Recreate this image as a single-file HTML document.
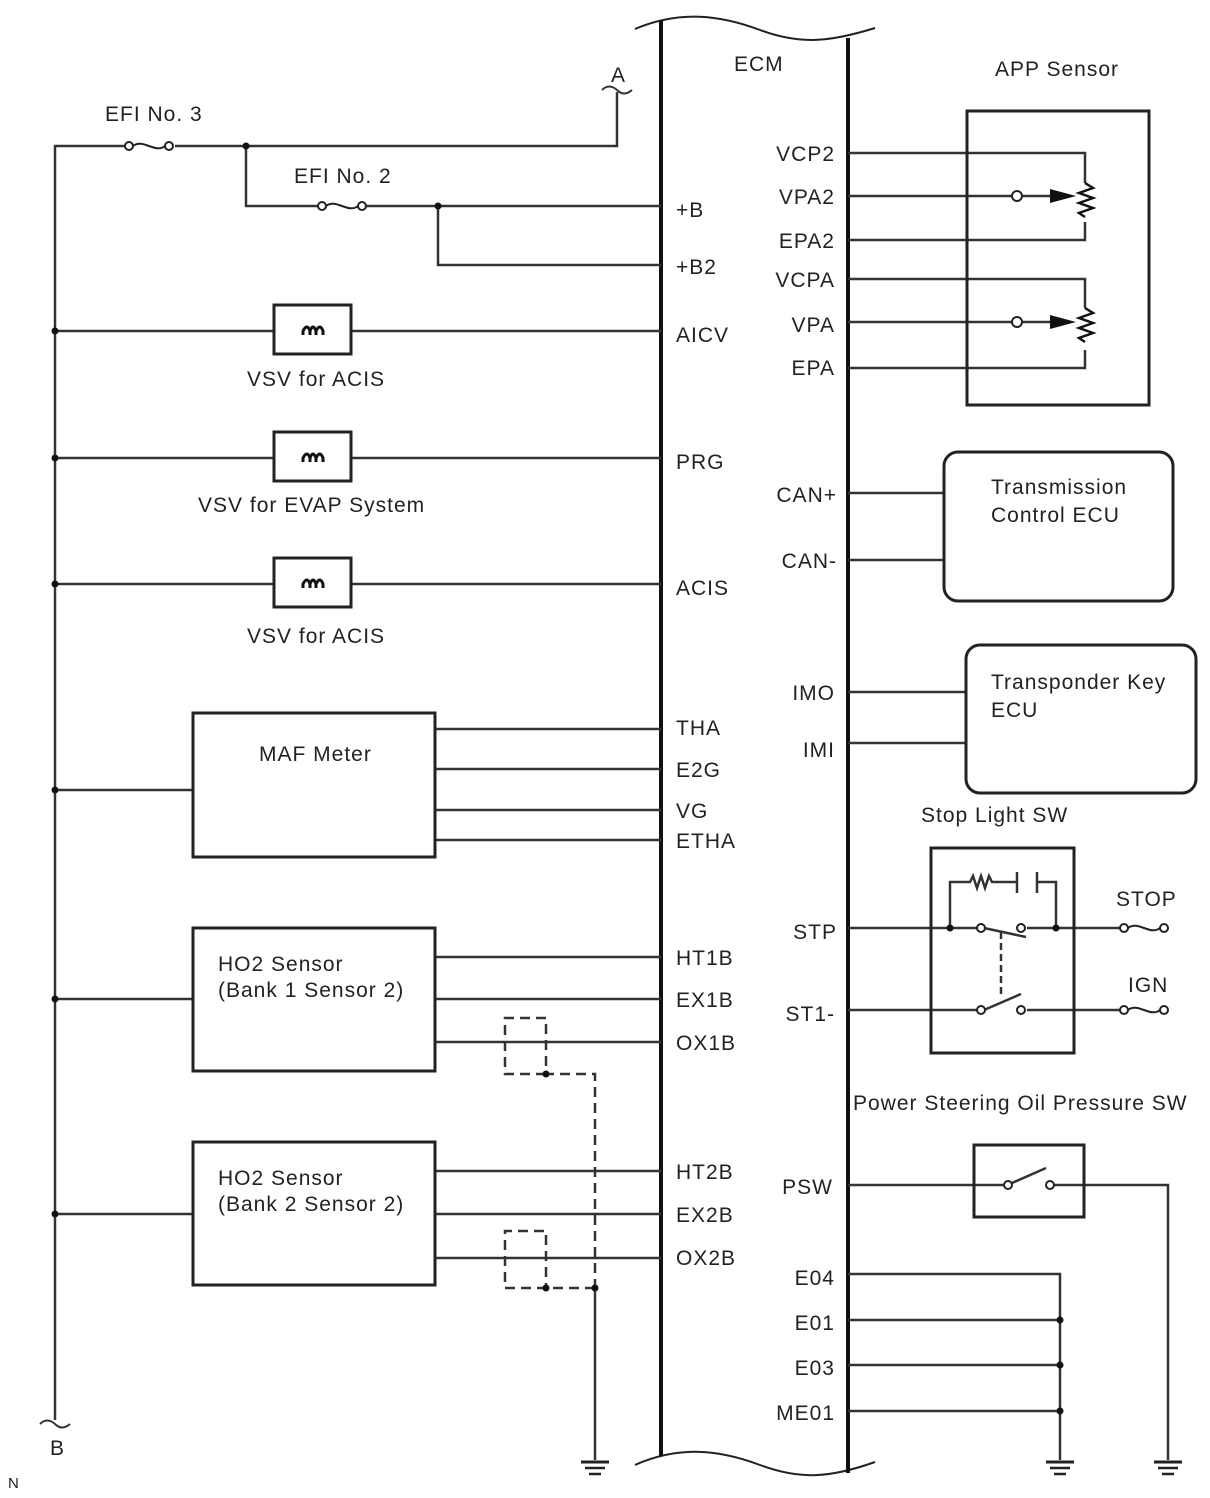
<!DOCTYPE html>
<html><head><style>body{margin:0;background:#fff}svg{display:block}text{font-family:"Liberation Sans",sans-serif;font-size:21px;letter-spacing:1px;fill:#222}</style></head><body>
<svg width="1210" height="1498" viewBox="0 0 1210 1498">
<defs>
<g id="fuse"><circle cx="0" cy="0" r="4" fill="#fff" stroke="#222" stroke-width="2"/><circle cx="40" cy="0" r="4" fill="#fff" stroke="#222" stroke-width="2"/><path d="M4,0 C14,-8 26,8 36,0" fill="none" stroke="#222" stroke-width="2"/></g>
<g id="gnd" stroke="#222"><line x1="-14" y1="0" x2="14" y2="0" stroke-width="3"/><line x1="-10" y1="6" x2="10" y2="6" stroke-width="2.5"/><line x1="-6" y1="12" x2="6" y2="12" stroke-width="2.5"/></g>
<g id="vsv"><rect x="0" y="0" width="77" height="49" fill="#fff" stroke="#222" stroke-width="3"/><path d="M29,30 v-4 q4,-8 7,0 v4 M36,26 q3,-8 6,0 v4 M42,26 q4,-8 7,0 v4" fill="none" stroke="#111" stroke-width="3"/></g>
</defs>
<g fill="none" stroke="#333" stroke-width="2.5">
<path d="M635,29 C680,10 720,15 760,30 C800,45 830,42 875,28" stroke="#222" stroke-width="2"/>
<path d="M635,1465 C680,1445 720,1450 760,1465 C800,1480 830,1478 875,1462" stroke="#222" stroke-width="2"/>
<line x1="661" y1="20" x2="661" y2="1456" stroke="#111" stroke-width="4"/>
<line x1="848" y1="38" x2="848" y2="1473" stroke="#111" stroke-width="4"/>
<polyline points="55,1420 55,146 125,146"/><polyline points="175,146 617,146 617,92"/>
<path d="M602,90 q7,-7 15,0 q7,7 15,0" stroke-width="2"/>
<path d="M40,1424 q7,-7 15,0 q7,7 15,0" stroke-width="2"/>
<polyline points="246,146 246,206 318,206"/><polyline points="365,206 661,206"/>
<polyline points="438,206 438,265 661,265"/>
<line x1="55" y1="331" x2="661" y2="331"/><line x1="55" y1="458" x2="661" y2="458"/><line x1="55" y1="584" x2="661" y2="584"/>
<line x1="55" y1="790" x2="193" y2="790"/>
<line x1="435" y1="729" x2="661" y2="729"/><line x1="435" y1="769" x2="661" y2="769"/><line x1="435" y1="810" x2="661" y2="810"/><line x1="435" y1="840" x2="661" y2="840"/>
<line x1="55" y1="999" x2="193" y2="999"/>
<line x1="435" y1="957" x2="661" y2="957"/><line x1="435" y1="999" x2="661" y2="999"/><line x1="435" y1="1042" x2="661" y2="1042"/>
<line x1="55" y1="1214" x2="193" y2="1214"/>
<line x1="435" y1="1171" x2="661" y2="1171"/><line x1="435" y1="1214" x2="661" y2="1214"/><line x1="435" y1="1258" x2="661" y2="1258"/>
<g stroke-dasharray="10,6"><polyline points="546,1074 505,1074 505,1018 546,1018 546,1074 595,1074 595,1288"/><polyline points="595,1288 505,1288 505,1231 546,1231 546,1288"/></g>
<line x1="595" y1="1288" x2="595" y2="1460"/>
<polyline points="848,153 1085,153 1085,183"/><polyline points="1085,222 1085,240 848,240"/>
<line x1="848" y1="196" x2="1013" y2="196"/><line x1="1021" y1="196" x2="1060" y2="196"/>
<polyline points="848,279 1085,279 1085,308"/><polyline points="1085,350 1085,368 848,368"/>
<line x1="848" y1="322" x2="1013" y2="322"/><line x1="1021" y1="322" x2="1060" y2="322"/>
<path d="M1085,183 l8,5 l-14,5 l14,5 l-14,5 l14,5 l-14,5 l6,4" stroke="#111"/>
<path d="M1085,308 l8,5 l-14,5 l14,5 l-14,5 l14,5 l-14,5 l6,4" stroke="#111"/>
<line x1="848" y1="493" x2="944" y2="493"/><line x1="848" y1="560" x2="944" y2="560"/>
<line x1="848" y1="692" x2="966" y2="692"/><line x1="848" y1="743" x2="966" y2="743"/>
<line x1="848" y1="928" x2="977" y2="928"/><line x1="1027" y1="928" x2="1120" y2="928"/>
<path d="M984,928 L1026,937"/>
<polyline points="950,928 950,882 970,882 973,876 977,888 981,876 985,888 989,876 992,882 1017,882"/>
<line x1="1017" y1="872" x2="1017" y2="893"/><line x1="1037" y1="872" x2="1037" y2="893"/>
<polyline points="1037,882 1056,882 1056,928"/>
<line x1="1001" y1="932" x2="1001" y2="994" stroke-dasharray="7,4"/>
<line x1="848" y1="1010" x2="977" y2="1010"/><line x1="1027" y1="1010" x2="1120" y2="1010"/>
<path d="M984,1010 L1021,994"/>
<line x1="848" y1="1185" x2="1004" y2="1185"/><path d="M1012,1183 L1046,1168"/>
<polyline points="1054,1185 1168,1185 1168,1460"/>
<polyline points="848,1274 1060,1274 1060,1460"/>
<line x1="848" y1="1320" x2="1060" y2="1320"/><line x1="848" y1="1365" x2="1060" y2="1365"/><line x1="848" y1="1411" x2="1060" y2="1411"/>
</g>
<g fill="none" stroke="#222" stroke-width="3">
<rect x="193" y="713" width="242" height="144"/>
<rect x="193" y="928" width="242" height="143"/>
<rect x="193" y="1142" width="242" height="143"/>
<rect x="967" y="111" width="182" height="294"/>
<rect x="944" y="452" width="229" height="149" rx="14"/>
<rect x="966" y="645" width="230" height="148" rx="14"/>
<rect x="931" y="848" width="143" height="205"/>
<rect x="974" y="1145" width="110" height="72"/>
</g>
<use href="#vsv" x="274" y="305"/><use href="#vsv" x="274" y="432"/><use href="#vsv" x="274" y="558"/>
<use href="#fuse" x="129" y="146"/><use href="#fuse" x="322" y="206"/>
<use href="#fuse" x="1124" y="928"/><use href="#fuse" x="1124" y="1010"/>
<g fill="#fff" stroke="#222" stroke-width="2">
<circle cx="1017" cy="196" r="5"/><circle cx="1017" cy="322" r="5"/>
<circle cx="981" cy="928" r="4"/><circle cx="1021" cy="928" r="4"/>
<circle cx="981" cy="1010" r="4"/><circle cx="1021" cy="1010" r="4"/>
<circle cx="1008" cy="1185" r="4"/><circle cx="1050" cy="1185" r="4"/>
</g>
<g fill="#111">
<path d="M1050,189 L1076,196 L1050,203Z"/><path d="M1050,315 L1076,322 L1050,329Z"/>
<circle cx="246" cy="146" r="3.5"/><circle cx="438" cy="206" r="3.5"/>
<circle cx="55" cy="331" r="3.5"/><circle cx="55" cy="458" r="3.5"/><circle cx="55" cy="584" r="3.5"/><circle cx="55" cy="790" r="3.5"/><circle cx="55" cy="999" r="3.5"/><circle cx="55" cy="1214" r="3.5"/>
<circle cx="546" cy="1074" r="3.5"/><circle cx="546" cy="1288" r="3.5"/><circle cx="595" cy="1288" r="3.5"/>
<circle cx="950" cy="928" r="3.5"/><circle cx="1056" cy="928" r="3.5"/>
<circle cx="1060" cy="1320" r="3.5"/><circle cx="1060" cy="1365" r="3.5"/><circle cx="1060" cy="1411" r="3.5"/>
</g>
<use href="#gnd" x="595" y="1462"/><use href="#gnd" x="1060" y="1462"/><use href="#gnd" x="1168" y="1462"/>
<text x="734" y="71">ECM</text><text x="611" y="82">A</text><text x="50" y="1455">B</text><text x="8" y="1488" style="font-size:15px;letter-spacing:0">N</text>
<text x="105" y="121">EFI No. 3</text><text x="294" y="183">EFI No. 2</text>
<text x="247" y="386">VSV for ACIS</text><text x="198" y="512">VSV for EVAP System</text><text x="247" y="643">VSV for ACIS</text>
<text x="259" y="761">MAF Meter</text>
<text x="218" y="971">HO2 Sensor</text><text x="218" y="997">(Bank 1 Sensor 2)</text>
<text x="218" y="1185">HO2 Sensor</text><text x="218" y="1211">(Bank 2 Sensor 2)</text>
<g><text x="676" y="217">+B</text><text x="676" y="274">+B2</text><text x="676" y="342">AICV</text><text x="676" y="469">PRG</text><text x="676" y="595">ACIS</text>
<text x="676" y="735">THA</text><text x="676" y="777">E2G</text><text x="676" y="818">VG</text><text x="676" y="848">ETHA</text>
<text x="676" y="965">HT1B</text><text x="676" y="1007">EX1B</text><text x="676" y="1050">OX1B</text>
<text x="676" y="1179">HT2B</text><text x="676" y="1222">EX2B</text><text x="676" y="1265">OX2B</text></g>
<g text-anchor="end"><text x="835" y="161">VCP2</text><text x="835" y="204">VPA2</text><text x="835" y="248">EPA2</text><text x="835" y="287">VCPA</text><text x="835" y="332">VPA</text><text x="835" y="375">EPA</text>
<text x="837" y="502">CAN+</text><text x="837" y="568">CAN-</text><text x="835" y="700">IMO</text><text x="835" y="757">IMI</text>
<text x="837" y="939">STP</text><text x="835" y="1021">ST1-</text><text x="833" y="1194">PSW</text>
<text x="835" y="1285">E04</text><text x="835" y="1330">E01</text><text x="835" y="1375">E03</text><text x="835" y="1420">ME01</text></g>
<text x="995" y="76">APP Sensor</text>
<text x="991" y="494">Transmission</text><text x="991" y="522">Control ECU</text>
<text x="991" y="689">Transponder Key</text><text x="991" y="717">ECU</text>
<text x="921" y="822">Stop Light SW</text><text x="1116" y="906">STOP</text><text x="1128" y="992">IGN</text>
<text x="853" y="1110">Power Steering Oil Pressure SW</text>
</svg>
</body></html>
